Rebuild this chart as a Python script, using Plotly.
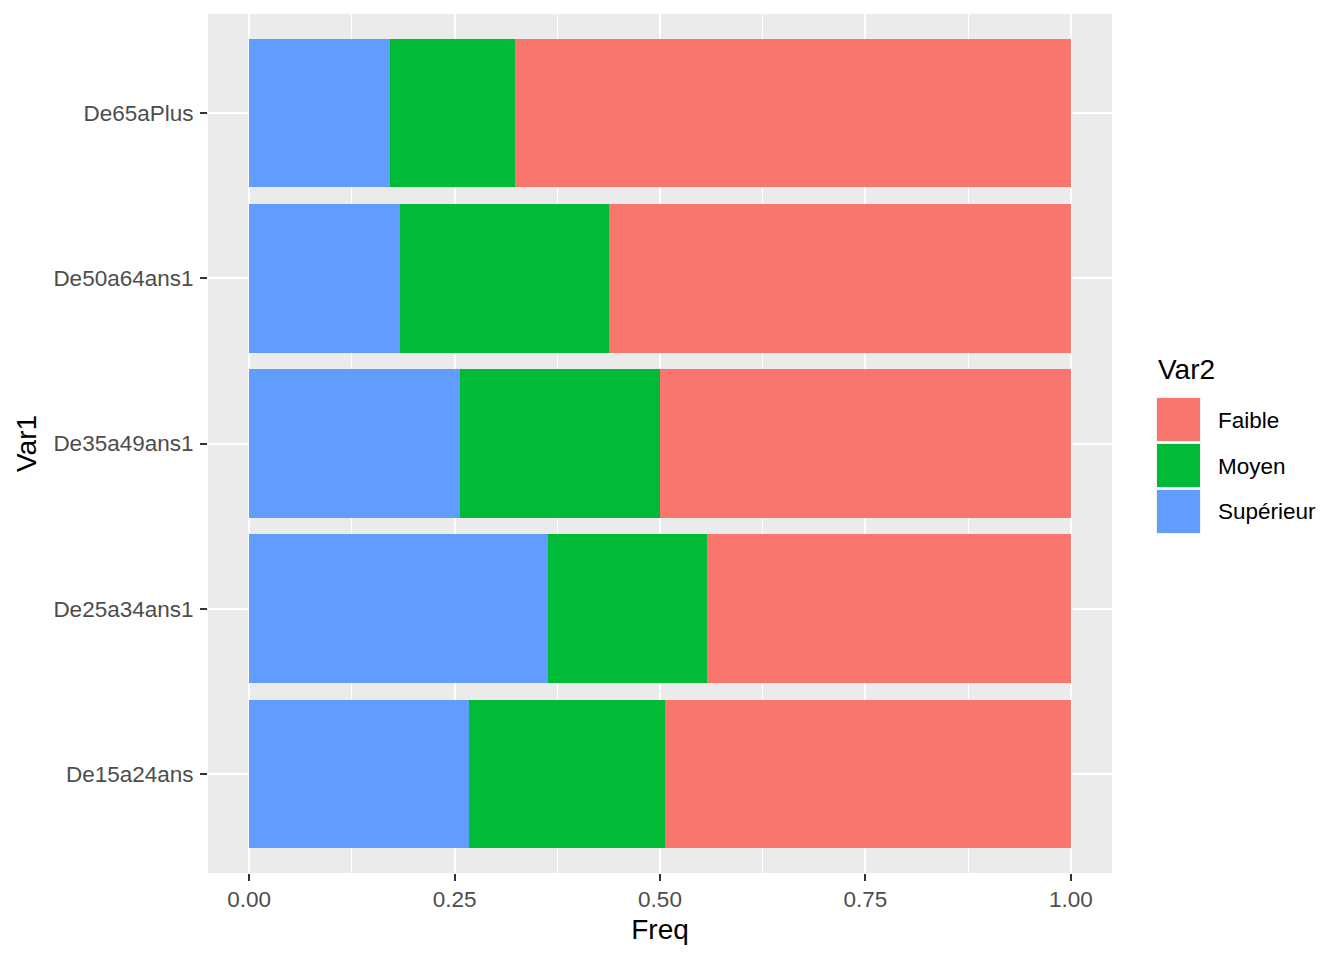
import plotly.graph_objects as go

# data (proportions per age group)
groups = ["De15a24ans", "De25a34ans1", "De35a49ans1", "De50a64ans1", "De65aPlus"]
levels = ["Faible", "Moyen", "Supérieur"]
superieur = [0.268, 0.364, 0.257, 0.184, 0.172]
moyen = [0.238, 0.193, 0.243, 0.254, 0.151]
faible = [0.494, 0.443, 0.500, 0.562, 0.677]
colors = {"Faible": "#F8766D", "Moyen": "#00BA38", "Supérieur": "#619CFF"}
xticks = [0, 0.25, 0.5, 0.75, 1]
xticklabels = ["0.00", "0.25", "0.50", "0.75", "1.00"]

# page body has an 8px margin, so the figure is drawn a bit smaller
OFF = 8
W, H = 1344 - OFF, 960 - OFF
L, R, T, B = 208 - OFF, 1112 - OFF, 14 - OFF, 873 - OFF
FONT = "Liberation Sans, Arial, sans-serif"


def px2x(px):
    # screen pixel -> paper coordinate
    return (px - OFF - L) / (R - L)


def py2y(py):
    return (B - (py - OFF)) / (B - T)


fig = go.Figure()

# stacking starts from zero, so Supérieur first
for name, vals in [("Supérieur", superieur), ("Moyen", moyen), ("Faible", faible)]:
    fig.add_trace(
        go.Bar(
            y=groups,
            x=vals,
            name=name,
            orientation="h",
            width=0.9,
            marker=dict(color=colors[name], line=dict(width=0)),
            showlegend=False,
        )
    )

# hand-drawn legend, ggplot style
fig.add_annotation(
    x=px2x(1156), y=py2y(369), xref="paper", yref="paper",
    text="Var2", showarrow=False, xanchor="left", yanchor="middle",
    font=dict(size=28, color="black", family=FONT),
)
key_tops = [397, 443, 489]
for lvl, top in zip(levels, key_tops):
    fig.add_shape(
        type="rect", xref="paper", yref="paper",
        x0=px2x(1156), x1=px2x(1201), y0=py2y(top + 45), y1=py2y(top),
        fillcolor="#F2F2F2", line=dict(width=0), layer="above",
    )
    fig.add_shape(
        type="rect", xref="paper", yref="paper",
        x0=px2x(1157), x1=px2x(1200), y0=py2y(top + 44), y1=py2y(top + 1),
        fillcolor=colors[lvl], line=dict(width=0), layer="above",
    )
    fig.add_annotation(
        x=px2x(1216), y=py2y(top + 23), xref="paper", yref="paper",
        text=lvl, showarrow=False, xanchor="left", yanchor="middle",
        font=dict(size=22.5, color="black", family=FONT),
    )

fig.update_layout(
    barmode="stack",
    width=W,
    height=H,
    margin=dict(l=L, r=W - R, t=T, b=H - B, pad=0),
    paper_bgcolor="white",
    plot_bgcolor="#EBEBEB",
    font=dict(family=FONT),
    showlegend=False,
    bargap=0.1,
)

fig.update_xaxes(
    range=[-0.05, 1.05],
    tickvals=xticks,
    ticktext=xticklabels,
    ticks="outside",
    ticklen=7,
    tickwidth=2,
    tickcolor="#333333",
    tickfont=dict(size=22.5, color="#4D4D4D", family=FONT),
    ticklabelstandoff=-1,
    showgrid=True,
    gridcolor="white",
    gridwidth=2,
    minor=dict(tick0=0.125, dtick=0.25, showgrid=True, gridcolor="white", gridwidth=1, ticks=""),
    zeroline=False,
    showline=False,
    title=dict(text="Freq", font=dict(size=28, color="black", family=FONT), standoff=8),
)

fig.update_yaxes(
    range=[-0.6, 4.6],
    categoryorder="array",
    categoryarray=groups,
    ticks="outside",
    ticklen=7,
    tickwidth=2,
    tickcolor="#333333",
    tickfont=dict(size=22.5, color="#4D4D4D", family=FONT),
    ticklabelstandoff=2,
    showgrid=True,
    gridcolor="white",
    gridwidth=2,
    zeroline=False,
    showline=False,
    title=dict(text="Var1", font=dict(size=28, color="black", family=FONT), standoff=8),
)

fig.write_html("out.html")
